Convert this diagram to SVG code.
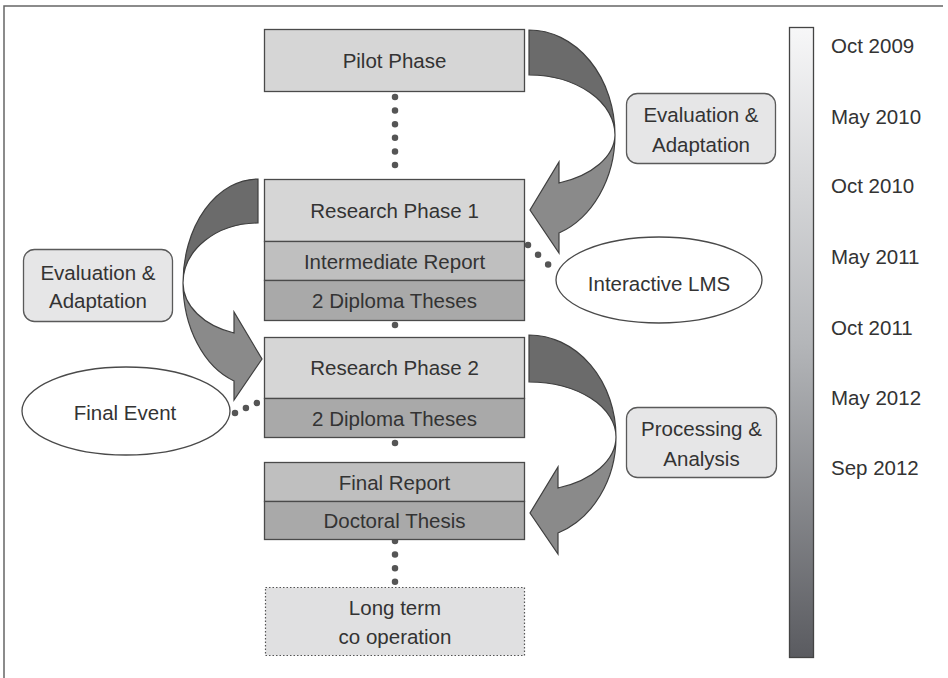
<svg xmlns="http://www.w3.org/2000/svg" width="948" height="678" viewBox="0 0 948 678">
<defs>
<linearGradient id="tl" x1="0" y1="0" x2="0" y2="1">
<stop offset="0" stop-color="#f7f7f8"/>
<stop offset="0.5" stop-color="#b4b6b9"/>
<stop offset="1" stop-color="#5a5b60"/>
</linearGradient>
</defs>
<style>
text{font-family:"Liberation Sans",Arial,sans-serif;font-size:20.5px;fill:#333;text-anchor:middle}
.tl{text-anchor:start}
.box{stroke:#4a4a4a;stroke-width:1.3}
.f1{fill:#d6d6d6}.f2{fill:#bfbfbf}.f3{fill:#a9a9a9}
.lbl{fill:#e6e6e7;stroke:#5a5a5a;stroke-width:1.3}
.ell{fill:#fff;stroke:#4a4a4a;stroke-width:1.3}
.dots{stroke:#555;stroke-width:6.5;stroke-linecap:round;stroke-dasharray:0 13.6;fill:none}
.dk{fill:#6b6b6b;stroke:#3f3f3f;stroke-width:1.2}
.lt{fill:#8a8a8a;stroke:#3f3f3f;stroke-width:1.2}
</style>
<rect width="948" height="678" fill="#fff"/>
<path d="M4,678 V6 H943" fill="none" stroke="#666" stroke-width="1.5"/>

<g id="connectors">
<line class="dots" x1="395" y1="97" x2="395" y2="178"/>
<line class="dots" x1="395" y1="325" x2="395" y2="333" style="stroke-dasharray:0 8"/>
<line class="dots" x1="395" y1="443" x2="395" y2="457" style="stroke-dasharray:0 14"/>
<line class="dots" x1="395" y1="541" x2="395" y2="582"/>
<line class="dots" x1="528" y1="245" x2="558" y2="274" style="stroke-dasharray:0 14"/>
<line class="dots" x1="235" y1="413" x2="259" y2="402" style="stroke-dasharray:0 12"/>
<g id="arrow-eval-right">
<path class="dk" d="M529,30 A86,105 0 0 1 615,135 A86,60 0 0 0 529,75 Z"/>
<path class="lt" d="M615,135 A86,105 0 0 1 559,233 L559,253 L530,210 L559,162 L559,183 A86,52 0 0 0 615,135 Z"/>
</g>
<g id="arrow-eval-left">
<path class="dk" d="M258,179 A75,104 0 0 0 183,283 A75,60 0 0 1 258,223 Z"/>
<path class="lt" d="M183,283 A75,104 0 0 0 234,381 L234,400 L262,359 L234,312 L234,333 A75,53 0 0 1 183,283 Z"/>
</g>
<g id="arrow-processing">
<path class="dk" d="M529,335 A87,102 0 0 1 616,437 A87,55 0 0 0 529,382 Z"/>
<path class="lt" d="M616,437 A87,102 0 0 1 558,533 L558,554 L530,513 L558,467 L558,488 A87,54 0 0 0 616,437 Z"/>
</g>
</g>

<g id="pilot-phase">
<rect class="box f1" x="264.5" y="29.5" width="260" height="62"/>
<text x="394.5" y="68">Pilot Phase</text>
</g>
<g id="research-phase-1">
<rect class="box f1" x="264.5" y="179.5" width="260" height="62"/>
<text x="394.5" y="218">Research Phase 1</text>
<rect class="box f2" x="264.5" y="241.5" width="260" height="39"/>
<text x="394.5" y="268.5">Intermediate Report</text>
<rect class="box f3" x="264.5" y="280.5" width="260" height="40"/>
<text x="394.5" y="308">2 Diploma Theses</text>
</g>
<g id="research-phase-2">
<rect class="box f1" x="264.5" y="337.5" width="260" height="61"/>
<text x="394.5" y="375">Research Phase 2</text>
<rect class="box f3" x="264.5" y="398.5" width="260" height="39"/>
<text x="394.5" y="425.5">2 Diploma Theses</text>
</g>
<g id="final-report">
<rect class="box f2" x="264.5" y="462.5" width="260" height="39"/>
<text x="394.5" y="489.5">Final Report</text>
<rect class="box f3" x="264.5" y="501.5" width="260" height="38"/>
<text x="394.5" y="527.5">Doctoral Thesis</text>
</g>
<g id="long-term">
<rect x="265.5" y="587.5" width="259" height="68" fill="#e0e0e1" stroke="#555" stroke-width="1.2" stroke-dasharray="1.5 2"/>
<text x="395" y="615">Long term</text>
<text x="395" y="644">co operation</text>
</g>
<g id="eval-right">
<rect class="lbl" x="626.5" y="93.5" width="149" height="70" rx="11"/>
<text x="701" y="122">Evaluation &amp;</text>
<text x="701" y="152">Adaptation</text>
</g>
<g id="eval-left">
<rect class="lbl" x="23.5" y="249.5" width="149" height="72" rx="11"/>
<text x="98" y="280">Evaluation &amp;</text>
<text x="98" y="308">Adaptation</text>
</g>
<g id="processing">
<rect class="lbl" x="626.5" y="407.5" width="150" height="70" rx="11"/>
<text x="701.5" y="436">Processing &amp;</text>
<text x="701.5" y="466">Analysis</text>
</g>
<g id="interactive-lms">
<ellipse class="ell" cx="659" cy="280" rx="103" ry="43"/>
<text x="659" y="291">Interactive LMS</text>
</g>
<g id="final-event">
<ellipse class="ell" cx="126" cy="411" rx="104" ry="44"/>
<text x="125" y="420">Final Event</text>
</g>
<g id="timeline">
<rect x="789.5" y="27.5" width="24" height="630" fill="url(#tl)" stroke="#444" stroke-width="1.3"/>
<text class="tl" x="831" y="52.5">Oct 2009</text>
<text class="tl" x="831" y="123.5">May 2010</text>
<text class="tl" x="831" y="192.5">Oct 2010</text>
<text class="tl" x="831" y="263.5">May 2011</text>
<text class="tl" x="831" y="334.5">Oct 2011</text>
<text class="tl" x="831" y="404.5">May 2012</text>
<text class="tl" x="831" y="474.5">Sep 2012</text>
</g>
</svg>
